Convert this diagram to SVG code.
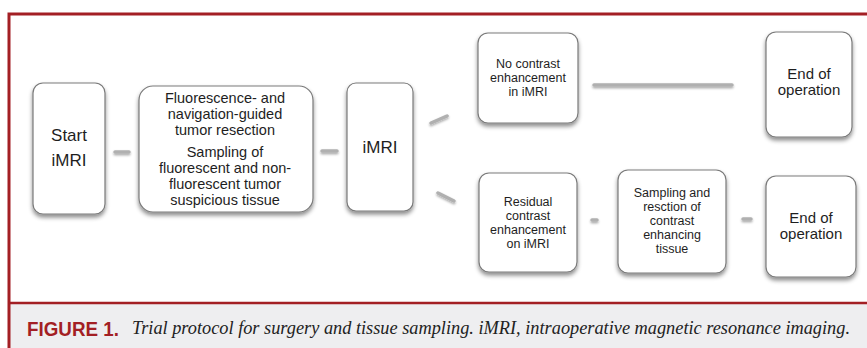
<svg xmlns="http://www.w3.org/2000/svg" width="867" height="348" viewBox="0 0 867 348">
<defs>
<filter id="sh" x="-20%" y="-20%" width="140%" height="150%">
<feDropShadow dx="0" dy="3" stdDeviation="2" flood-color="#000" flood-opacity="0.45"/>
</filter>
<filter id="lsh" filterUnits="userSpaceOnUse" x="0" y="0" width="867" height="348">
<feDropShadow dx="0" dy="1.5" stdDeviation="1.2" flood-color="#000" flood-opacity="0.35"/>
</filter>
</defs>
<style>
.box{fill:#fff;stroke:#7a7a7a;stroke-width:1.2;filter:url(#sh)}
.t{font-family:"Liberation Sans",Arial,sans-serif;fill:#1e1e1e;text-anchor:middle}
.c{stroke:#b0b0b0;stroke-width:3.5;stroke-linecap:round;fill:none;filter:url(#lsh)}
</style>
<rect x="0" y="0" width="867" height="348" fill="#fff"/>
<rect x="9" y="304" width="858" height="44" fill="#eeeef0"/>
<path d="M9,348 V14 H867" fill="none" stroke="#a31f24" stroke-width="3"/>
<line x1="9" y1="303" x2="867" y2="303" stroke="#a31f24" stroke-width="2.5"/>
<g id="connectors">
<line class="c" x1="115" y1="152" x2="129" y2="152"/>
<line class="c" x1="322" y1="151" x2="337" y2="151"/>
<line class="c" x1="431" y1="123" x2="447" y2="116"/>
<line class="c" x1="438" y1="193" x2="454" y2="201"/>
<line class="c" x1="594" y1="85" x2="732" y2="85"/>
<line class="c" x1="592" y1="220" x2="597" y2="220"/>
<line class="c" x1="743" y1="219" x2="751" y2="219"/>
</g>
<g id="start">
<rect class="box" x="33" y="83" width="72" height="131" rx="10"/>
<text class="t" font-size="17" x="69" y="141">Start</text>
<text class="t" font-size="17" x="69" y="166">iMRI</text>
</g>
<g id="resection">
<rect class="box" x="139" y="86" width="174" height="126" rx="14"/>
<text class="t" font-size="14.5" x="225" y="103">Fluorescence- and</text>
<text class="t" font-size="14.5" x="225" y="119">navigation-guided</text>
<text class="t" font-size="14.5" x="225" y="135">tumor resection</text>
<text class="t" font-size="14.5" x="225" y="157">Sampling  of</text>
<text class="t" font-size="14.5" x="225" y="173">fluorescent and non-</text>
<text class="t" font-size="14.5" x="225" y="189">fluorescent tumor</text>
<text class="t" font-size="14.5" x="225" y="205">suspicious tissue</text>
</g>
<g id="imri">
<rect class="box" x="347" y="83" width="66" height="128" rx="9"/>
<text class="t" font-size="17" x="380" y="153">iMRI</text>
</g>
<g id="nocontrast">
<rect class="box" x="478" y="33" width="100" height="90" rx="10"/>
<text class="t" font-size="12.5" x="528" y="68">No contrast</text>
<text class="t" font-size="12.5" x="528" y="82">enhancement</text>
<text class="t" font-size="12.5" x="528" y="96">in iMRI</text>
</g>
<g id="end1">
<rect class="box" x="766" y="32" width="86" height="105" rx="10"/>
<text class="t" font-size="15" x="809" y="79">End  of</text>
<text class="t" font-size="15" x="809" y="95">operation</text>
</g>
<g id="residual">
<rect class="box" x="479" y="173" width="98" height="99" rx="10"/>
<text class="t" font-size="12.5" x="528" y="206">Residual</text>
<text class="t" font-size="12.5" x="528" y="220">contrast</text>
<text class="t" font-size="12.5" x="528" y="234">enhancement</text>
<text class="t" font-size="12.5" x="528" y="248">on iMRI</text>
</g>
<g id="sampling">
<rect class="box" x="618" y="170" width="108" height="103" rx="10"/>
<text class="t" font-size="12.5" x="672" y="197">Sampling and</text>
<text class="t" font-size="12.5" x="672" y="211">resction  of</text>
<text class="t" font-size="12.5" x="672" y="225">contrast</text>
<text class="t" font-size="12.5" x="672" y="239">enhancing</text>
<text class="t" font-size="12.5" x="672" y="253">tissue</text>
</g>
<g id="end2">
<rect class="box" x="766" y="176" width="90" height="101" rx="10"/>
<text class="t" font-size="15" x="811" y="223">End  of</text>
<text class="t" font-size="15" x="811" y="239">operation</text>
</g>
<g id="caption">
<text x="27" y="336" font-family="'Liberation Sans',Arial,sans-serif" font-weight="bold" font-size="20" fill="#a31f24" textLength="92" lengthAdjust="spacingAndGlyphs">FIGURE 1.</text>
<text x="132" y="334" font-family="'Liberation Serif','Times New Roman',serif" font-style="italic" font-size="18.5" fill="#222" textLength="718" lengthAdjust="spacingAndGlyphs">Trial protocol for surgery and tissue sampling. iMRI, intraoperative magnetic resonance imaging.</text>
</g>
</svg>
